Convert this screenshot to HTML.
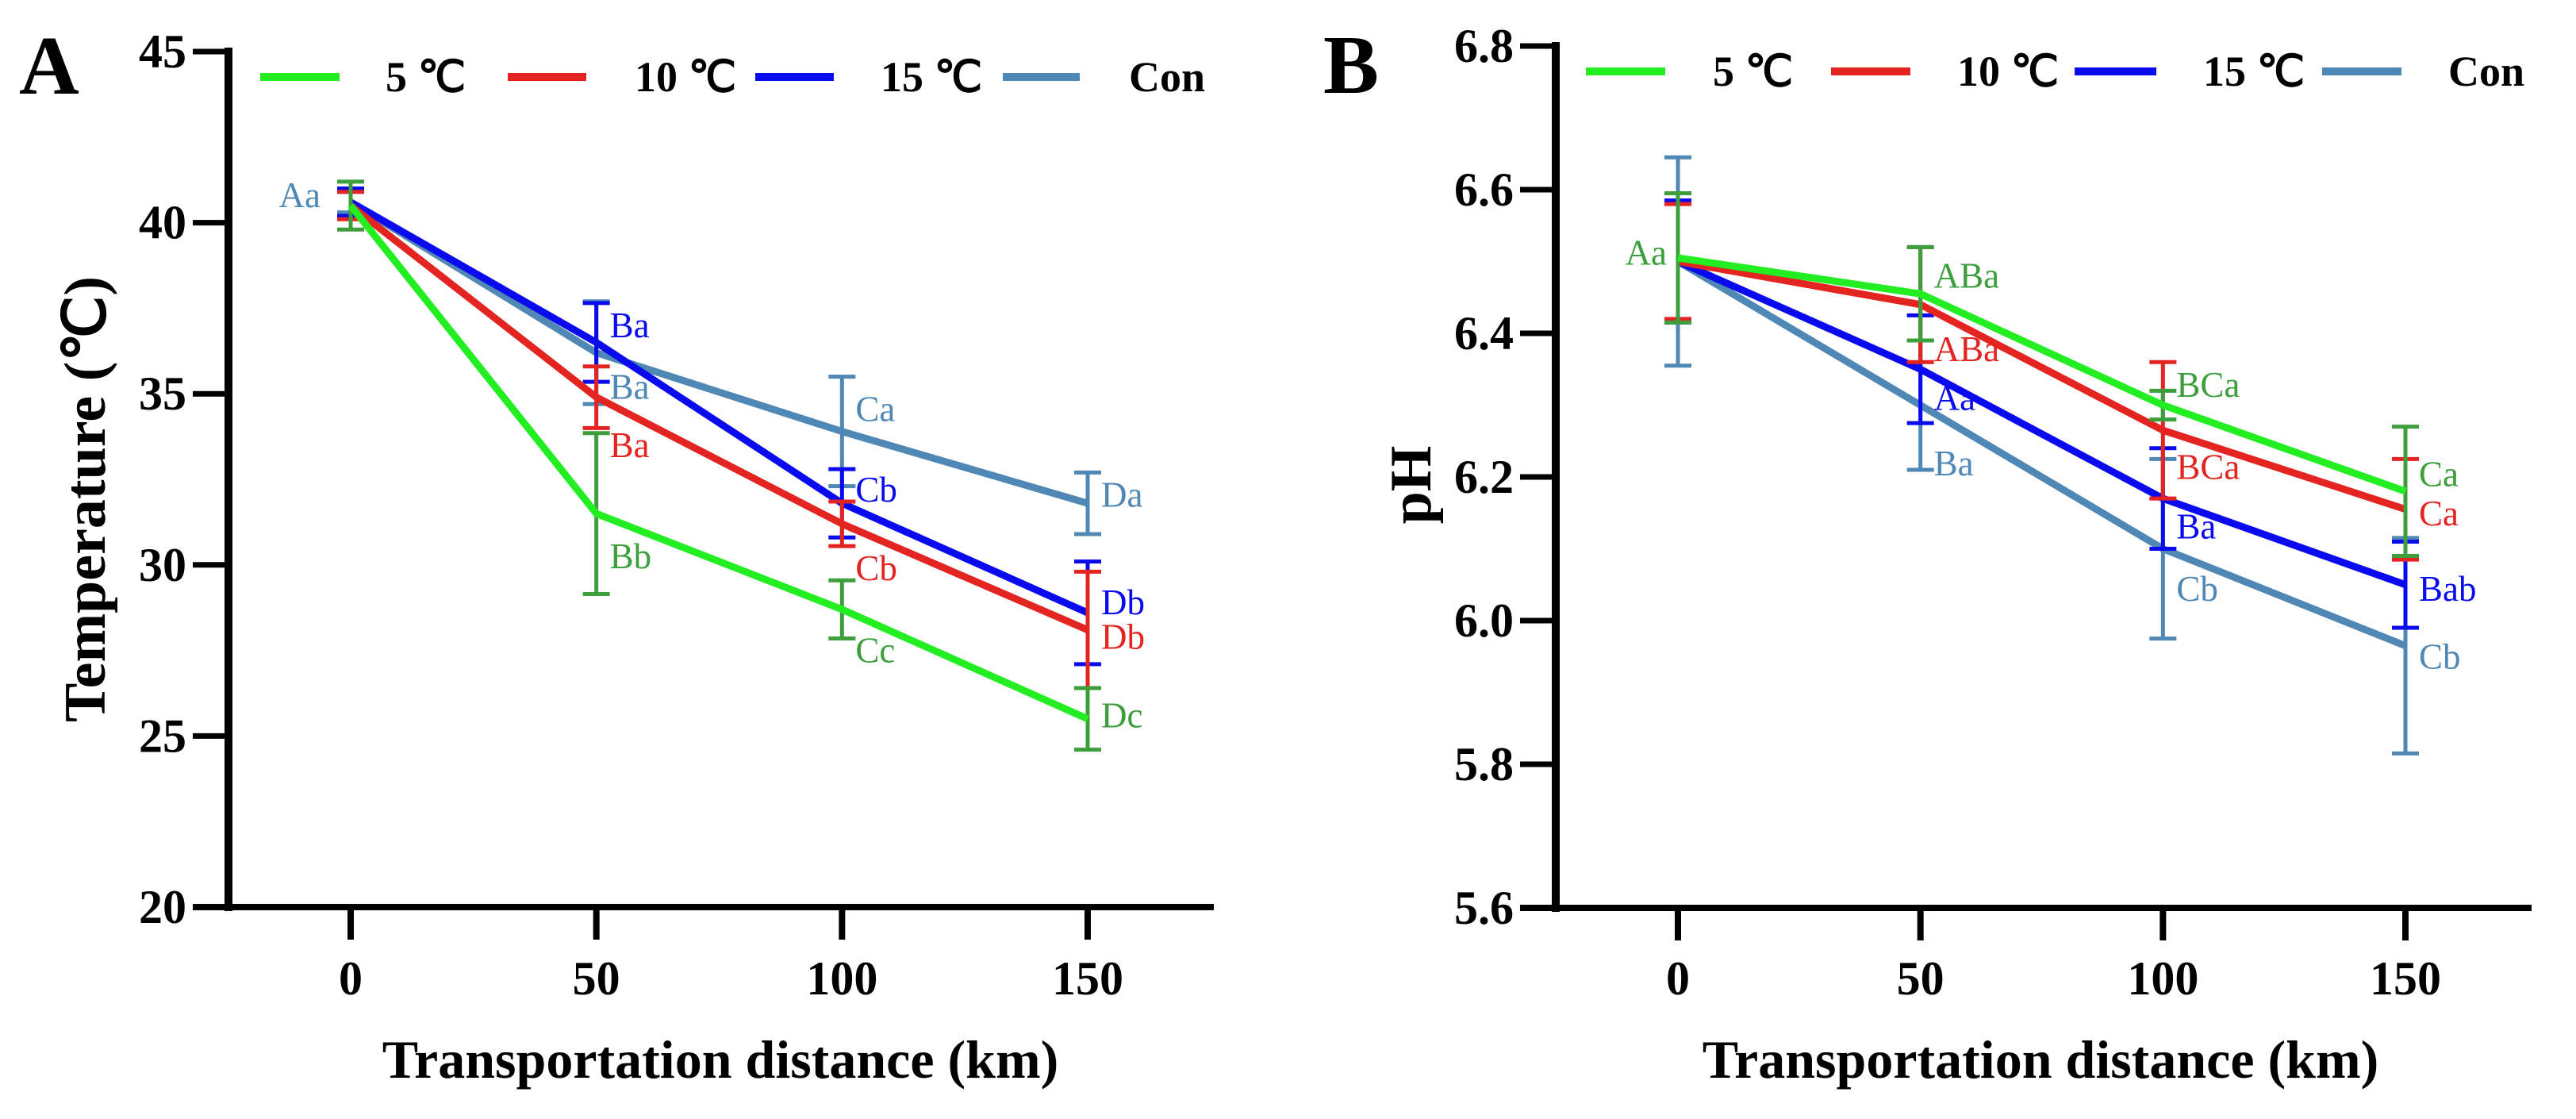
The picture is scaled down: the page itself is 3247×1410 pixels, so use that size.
<!DOCTYPE html>
<html><head><meta charset="utf-8">
<style>
html,body{margin:0;padding:0;background:#fff;}
svg{display:block;}
text{font-family:"Liberation Serif","Times New Roman",serif;}
</style></head>
<body>
<svg id="chart" width="3247" height="1410" viewBox="0 0 3247 1410" xmlns="http://www.w3.org/2000/svg"></svg>
<script>
// ---- shared ----
const distances = [0, 50, 100, 150];
const xTickLabels = ["0", "50", "100", "150"];
const seriesNames = ["5 ℃", "10 ℃", "15 ℃", "Con"];
const seriesKeys = ["s5", "s10", "s15", "con"];

// ---- Panel A: Temperature ----
const tempYTicks = [20, 25, 30, 35, 40, 45];
const temp5 = [40.5, 31.5, 28.7, 25.5];
const temp5Err = [0.7, 2.35, 0.85, 0.9];
const temp10 = [40.5, 34.9, 31.2, 28.1];
const temp10Err = [0.4, 0.9, 0.65, 1.7];
const temp15 = [40.6, 36.5, 31.8, 28.6];
const temp15Err = [0.4, 1.15, 1.0, 1.5];
const tempCon = [40.6, 36.2, 33.9, 31.8];
const tempConErr = [0.3, 1.5, 1.6, 0.9];
const temp5Labels = ["", "Bb", "Cc", "Dc"];
const temp10Labels = ["", "Ba", "Cb", "Db"];
const temp15Labels = ["", "Ba", "Cb", "Db"];
const tempConLabels = ["Aa", "Ba", "Ca", "Da"];
const temp5LabelY = [null, 30.25, 27.5, 25.6];
const temp10LabelY = [null, 33.5, 29.9, 27.9];
const temp15LabelY = [null, 37.0, 32.2, 28.9];
const tempConLabelY = [40.8, 35.2, 34.55, 32.05];

// ---- Panel B: pH ----
const phYTicks = [5.6, 5.8, 6.0, 6.2, 6.4, 6.6, 6.8];
const ph5 = [6.505, 6.455, 6.30, 6.18];
const ph5Err = [0.09, 0.065, 0.02, 0.09];
const ph10 = [6.50, 6.44, 6.265, 6.155];
const ph10Err = [0.08, 0.08, 0.095, 0.07];
const ph15 = [6.50, 6.35, 6.17, 6.05];
const ph15Err = [0.085, 0.075, 0.07, 0.06];
const phCon = [6.50, 6.30, 6.10, 5.965];
const phConErr = [0.145, 0.09, 0.125, 0.15];
const ph5Labels = ["Aa", "ABa", "BCa", "Ca"];
const ph10Labels = ["", "ABa", "BCa", "Ca"];
const ph15Labels = ["", "Aa", "Ba", "Bab"];
const phConLabels = ["", "Ba", "Cb", "Cb"];
const ph5LabelY = [6.512, 6.48, 6.328, 6.204];
const ph10LabelY = [null, 6.378, 6.214, 6.149];
const ph15LabelY = [null, 6.31, 6.131, 6.044];
const phConLabelY = [null, 6.219, 6.044, 5.95];

const NS = "http://www.w3.org/2000/svg";
const svg = document.getElementById("chart");
function mk(tag, attrs, parent) {
  const e = document.createElementNS(NS, tag);
  for (const k in attrs) e.setAttribute(k, attrs[k]);
  (parent || svg).appendChild(e);
  return e;
}
const lineColors = {s5: "#22ee22", s10: "#e32420", s15: "#0a0aee", con: "#4f87b5"};
const barColors = {s5: "#3c9f3c", s10: "#e32420", s15: "#0a0aee", con: "#4f87b5"};

function drawPanel(cfg) {
  const g = mk("g", {});
  
  
  const yMin = cfg.yTicks[0], yMax = cfg.yTicks[cfg.yTicks.length - 1];
  const yS = v => cfg.bottom - (v - yMin) / (yMax - yMin) * (cfg.bottom - cfg.top);
  const xS = d => cfg.x0 + d / 150 * (cfg.x150 - cfg.x0);

  const letter = mk("text", {x: cfg.letterX, y: cfg.letterY, "font-size": 105, "font-weight": "bold", fill: "#000"}, g);
  letter.textContent = cfg.letter;
  
  

  const ya = mk("line", {x1: cfg.axisX, y1: cfg.top - 5, x2: cfg.axisX, y2: cfg.bottom + 5, stroke: "#000", "stroke-width": 10}, g);
  
  
  const xa = mk("line", {x1: cfg.axisX - 45, y1: cfg.bottom, x2: cfg.axisEnd, y2: cfg.bottom, stroke: "#000", "stroke-width": 8}, g);
  
  

  cfg.yTicks.forEach(t => {
    const y = yS(t);
    const tk = mk("line", {x1: cfg.axisX - 45, y1: y, x2: cfg.axisX, y2: y, stroke: "#000", "stroke-width": 7}, g);
    
    
    const tl = mk("text", {x: cfg.axisX - 53, y: y, "font-size": 60, "font-weight": "bold", "text-anchor": "end", "dominant-baseline": "central", fill: "#000"}, g);
    tl.textContent = cfg.yFmt(t);
    
    
  });
  distances.forEach((d, i) => {
    const x = xS(d);
    const tk = mk("line", {x1: x, y1: cfg.bottom, x2: x, y2: cfg.bottom + 41, stroke: "#000", "stroke-width": 8}, g);
    
    
    const tl = mk("text", {x: x, y: 1253, "font-size": 60, "font-weight": "bold", "text-anchor": "middle", fill: "#000"}, g);
    tl.textContent = xTickLabels[i];
    
    
  });

  const xt = mk("text", {x: cfg.xTitleX, y: 1358, "font-size": 68, "font-weight": "bold", "text-anchor": "middle", fill: "#000"}, g);
  xt.textContent = "Transportation distance (km)";
  
  
  const yt = mk("text", {x: 0, y: 0, "font-size": 74, "font-weight": "bold", "text-anchor": "middle", fill: "#000",
    transform: `translate(${cfg.yTitleX},${cfg.yTitleY}) rotate(-90)`, "dominant-baseline": "central"}, g);
  yt.textContent = cfg.yTitle;
  
  

  seriesKeys.forEach((k, i) => {
    const lg = mk("g", {}, g);
    
    
    const L = cfg.legend[i];
    mk("line", {x1: L[0], y1: cfg.legendY, x2: L[1], y2: cfg.legendY, stroke: lineColors[k], "stroke-width": 10}, lg);
    const tx = mk("text", {x: L[2], y: cfg.legendY, "font-size": 54, "font-weight": "bold", "dominant-baseline": "central", fill: "#000"}, lg);
    tx.textContent = seriesNames[i];
  });

  const order = [3, 2, 1, 0];
  order.forEach(si => {
    const k = seriesKeys[si];
    const s = cfg.series[si];
    const sg = mk("g", {}, g);
    
    
    s.vals.forEach((v, i) => {
      const x = xS(distances[i]);
      const yTop = yS(v + s.err[i]), yBot = yS(v - s.err[i]);
      const eb = mk("path", {d: `M${x},${yTop}V${yBot}M${x - 17},${yTop}H${x + 17}M${x - 17},${yBot}H${x + 17}`,
        stroke: barColors[k], "stroke-width": 5, fill: "none"}, sg);
      
      
    });
    const pts = s.vals.map((v, i) => xS(distances[i]) + "," + yS(v)).join(" ");
    const pl = mk("polyline", {points: pts, fill: "none", stroke: lineColors[k], "stroke-width": 9, "stroke-linejoin": "round"}, sg);
    
    
    s.labels.forEach((lab, i) => {
      if (!lab) return;
      const x = xS(distances[i]);
      const left = i === 0;
      const t = mk("text", {x: left ? x - cfg.leftLabelGap : x + 17, y: yS(s.labelY[i]), "font-size": 45,
        "text-anchor": left ? "end" : "start", "dominant-baseline": "central", fill: barColors[k]}, sg);
      t.textContent = lab;
      
      
    });
  });
}

drawPanel({
  name: "panel-a-temperature", letter: "A", letterX: 24, letterY: 118,
  axisX: 288, axisEnd: 1530, top: 65, bottom: 1143, x0: 442, x150: 1371,
  yTicks: tempYTicks, yFmt: t => String(t), yTitle: "Temperature (℃)", yTitleX: 108, yTitleY: 629,
  xTitleX: 908, legendY: 97, leftLabelGap: 38,
  legend: [[328, 428, 486], [640, 739, 800], [952, 1051, 1110], [1264, 1361, 1423]],
  series: [
    {vals: temp5, err: temp5Err, labels: temp5Labels, labelY: temp5LabelY},
    {vals: temp10, err: temp10Err, labels: temp10Labels, labelY: temp10LabelY},
    {vals: temp15, err: temp15Err, labels: temp15Labels, labelY: temp15LabelY},
    {vals: tempCon, err: tempConErr, labels: tempConLabels, labelY: tempConLabelY}
  ]
});
drawPanel({
  name: "panel-b-ph", letter: "B", letterX: 1668, letterY: 117,
  axisX: 1961, axisEnd: 3191, top: 58, bottom: 1144, x0: 2115, x150: 3032,
  yTicks: phYTicks, yFmt: t => t.toFixed(1), yTitle: "pH", yTitleX: 1779, yTitleY: 611,
  xTitleX: 2572, legendY: 90, leftLabelGap: 14,
  legend: [[1999, 2099, 2159], [2308, 2408, 2467], [2615, 2718, 2777], [2927, 3027, 3086]],
  series: [
    {vals: ph5, err: ph5Err, labels: ph5Labels, labelY: ph5LabelY},
    {vals: ph10, err: ph10Err, labels: ph10Labels, labelY: ph10LabelY},
    {vals: ph15, err: ph15Err, labels: ph15Labels, labelY: ph15LabelY},
    {vals: phCon, err: phConErr, labels: phConLabels, labelY: phConLabelY}
  ]
});
</script>
</body></html>
